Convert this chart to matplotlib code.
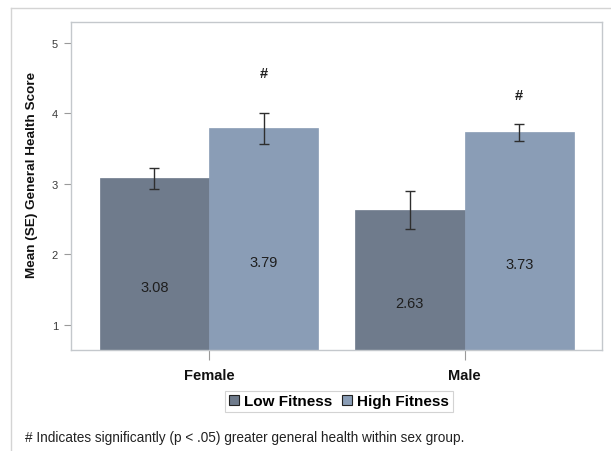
import matplotlib
matplotlib.use("Agg")
import matplotlib.pyplot as plt
from matplotlib.patches import Patch
from matplotlib.lines import Line2D
import numpy as np

plt.rcParams['font.family'] = ['Liberation Sans', 'DejaVu Sans']

groups = ["Female", "Male"]
series = ["Low Fitness", "High Fitness"]
low_mean = [3.08, 2.63]
low_se = [0.15, 0.27]
high_mean = [3.79, 3.73]
high_se = [0.22, 0.12]
sig_marker = ["#", "#"]
sig_y = [4.58, 4.26]
y_ticks = [1, 2, 3, 4, 5]
footnote = "# Indicates significantly (p < .05) greater general health within sex group."

low_color = "#6f7b8c"
high_color = "#8a9db6"
frame_color = "#c4c8cc"

W, H = 611, 452
fig = plt.figure(figsize=(W / 100, H / 100), dpi=100)

# outer frame (top and left edges visible)
fig.add_artist(Line2D([11 / W, 1.0], [1 - 9 / H, 1 - 9 / H], color="#d4d4d4", lw=1.0))
fig.add_artist(Line2D([11 / W, 11 / W], [0, 1 - 9 / H], color="#d4d4d4", lw=1.0))

ax_l, ax_r, ax_t, ax_b = 70.5, 602, 22.6, 350.5
ax = fig.add_axes([ax_l / W, 1 - ax_b / H, (ax_r - ax_l) / W, (ax_b - ax_t) / H])

x = np.arange(len(groups))
w = 0.428
ax.bar(x - w / 2, low_mean, w, color=low_color, edgecolor=low_color, linewidth=0.5, zorder=2)
ax.bar(x + w / 2, high_mean, w, color=high_color, edgecolor=high_color, linewidth=0.5, zorder=2)

err_kw = dict(fmt="none", ecolor="#2e2e2e", elinewidth=1.0, capsize=3.4, capthick=1.0, zorder=3)
ax.errorbar(x - w / 2, low_mean, yerr=low_se, **err_kw)
ax.errorbar(x + w / 2, high_mean, yerr=high_se, **err_kw)

# value labels at half bar height
for xi, v in zip(x - w / 2, low_mean):
    ax.text(xi, v / 2, f"{v:.2f}", ha="center", va="center", fontsize=10.5, color="#1e1e1e", zorder=4)
for xi, v in zip(x + w / 2, high_mean):
    ax.text(xi, v / 2, f"{v:.2f}", ha="center", va="center", fontsize=10.5, color="#1e1e1e", zorder=4)

# significance markers
for xi, yv, m in zip(x + w / 2, sig_y, sig_marker):
    ax.text(xi, yv, m, ha="center", va="center", fontsize=10.5, fontweight="bold", color="#1e1e1e")

ax.set_xlim(-0.542, 1.538)
ax.set_ylim(0.649, 5.304)
ax.set_yticks(y_ticks)
ax.set_yticklabels([str(t) for t in y_ticks], fontsize=8, color="#3a3a3a")
ax.set_xticks(x)
ax.set_xticklabels(groups, fontsize=10.5, fontweight="bold", color="#111111")
ax.tick_params(axis="y", length=5, width=0.8, color="#9a9a9a", pad=4)
ax.tick_params(axis="x", length=7, width=0.8, color="#9a9a9a", pad=6)
for s in ax.spines.values():
    s.set_color(frame_color)
    s.set_linewidth(1.0)

fig.text(32 / W, 1 - 175 / H, "Mean (SE) General Health Score", rotation=90,
         ha="center", va="center", fontsize=9.7, fontweight="bold", color="#111111")

handles = [Patch(facecolor=low_color, edgecolor="#222222", linewidth=0.8),
           Patch(facecolor=high_color, edgecolor="#222222", linewidth=0.8)]
leg = fig.legend(handles, series, loc="center", bbox_to_anchor=(339 / W, 1 - 402.5 / H),
                 ncol=2, frameon=True, prop={"weight": "bold", "size": 11},
                 handlelength=0.65, handleheight=0.65, handletextpad=0.35, columnspacing=0.6,
                 borderpad=0.25, fancybox=False, borderaxespad=0)
leg.get_frame().set_edgecolor("#c8c8c8")
leg.get_frame().set_linewidth(0.8)

fig.text(25 / W, 1 - 438 / H, footnote, ha="left", va="center", fontsize=9.8, color="#222222")

fig.savefig("out.png", dpi=100)
